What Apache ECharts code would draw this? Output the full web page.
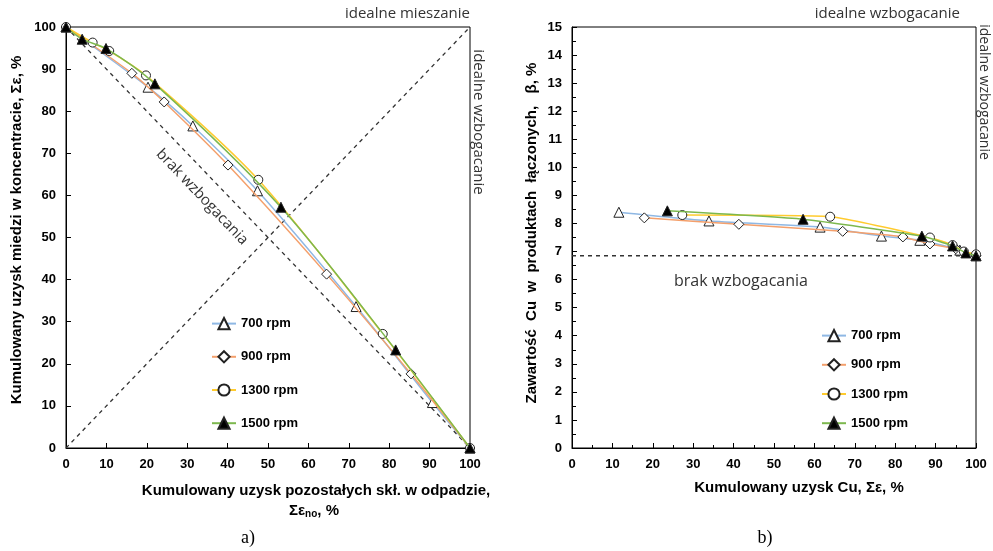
<!DOCTYPE html>
<html>
<head>
<meta charset="utf-8">
<script src="https://cdn.jsdelivr.net/npm/echarts@6/dist/echarts.min.js"></script>
<style>html,body{margin:0;padding:0;background:#fff}#c{width:993px;height:551px}</style>
</head>
<body>
<div id="c"></div>
<script>
// ---- data: left chart (a) ----
const seriesNames = ['700 rpm', '900 rpm', '1300 rpm', '1500 rpm'];
const leftX700 = [0, 20.3, 31.4, 47.4, 71.8, 90.7, 100];
const leftY700 = [100, 85.7, 76.5, 61.1, 33.6, 10.8, 0];
const leftX900 = [0, 16.3, 24.3, 40.1, 64.5, 85.4, 100];
const leftY900 = [100, 89.0, 82.2, 67.2, 41.3, 17.6, 0];
const leftX1300 = [0, 6.6, 10.7, 19.8, 47.6, 78.4, 100];
const leftY1300 = [100, 96.3, 94.3, 88.5, 63.7, 27.1, 0];
const leftX1500 = [0, 4.0, 9.9, 22.0, 53.2, 81.6, 100];
const leftY1500 = [100, 97.1, 94.9, 86.5, 57.2, 23.3, 0];
const idealMixX = [0, 100];
const idealMixY = [0, 100];
const noEnrichLeftX = [0, 100];
const noEnrichLeftY = [100, 0];
// ---- data: right chart (b) ----
const rightX700 = [11.6, 33.9, 61.4, 76.6, 86.1, 96.0, 100];
const rightY700 = [8.40, 8.09, 7.87, 7.55, 7.40, 7.05, 6.85];
const rightX900 = [17.9, 41.3, 67.0, 81.9, 88.6, 95.0, 100];
const rightY900 = [8.20, 7.97, 7.72, 7.52, 7.27, 7.10, 6.85];
const rightX1300 = [27.3, 63.9, 88.6, 94.2, 97.0, 100];
const rightY1300 = [8.30, 8.24, 7.50, 7.23, 7.00, 6.90];
const rightX1500 = [23.6, 57.2, 86.6, 94.2, 97.5, 100];
const rightY1500 = [8.45, 8.15, 7.55, 7.20, 6.95, 6.85];
const noEnrichRightX = [0, 100];
const noEnrichRightY = [6.85, 6.85];

const zip = (xs, ys) => xs.map((x, i) => [x, ys[i]]);

const lineColors = ['#8FB8E4', '#F4A06C', '#FFCB2E', '#7DB84E'];
const markers = [
  {symbol: 'triangle', size: 10, fill: '#fff'},
  {symbol: 'diamond', size: 10, fill: '#fff'},
  {symbol: 'circle', size: 9, fill: '#fff'},
  {symbol: 'triangle', size: 10, fill: '#000'}
];
const FONT = 'Liberation Sans, Arial, sans-serif';

function dataSeries(name, idx, data, gi, smooth) {
  const m = markers[idx];
  return {
    name: name, type: 'line', xAxisIndex: gi, yAxisIndex: gi,
    data: data, smooth: smooth, symbol: m.symbol, symbolSize: m.size,
    lineStyle: {color: lineColors[idx], width: 1.5},
    itemStyle: {color: m.fill, borderColor: '#222', borderWidth: 1},
    z: 3 + idx
  };
}
function dashSeries(data, gi) {
  return {
    type: 'line', xAxisIndex: gi, yAxisIndex: gi, data: data,
    symbol: 'none', silent: true,
    lineStyle: {color: '#333', width: 1.3, type: [4, 4]}, z: 2
  };
}

const leftData = [zip(leftX700, leftY700), zip(leftX900, leftY900), zip(leftX1300, leftY1300), zip(leftX1500, leftY1500)];
const rightData = [zip(rightX700, rightY700), zip(rightX900, rightY900), zip(rightX1300, rightY1300), zip(rightX1500, rightY1500)];

const axisLabel = {color: '#000', fontFamily: FONT, fontWeight: 'bold', fontSize: 13};
const axisLine = {lineStyle: {color: '#000', width: 1}};

const series = [];
seriesNames.forEach((n, i) => series.push(dataSeries(n, i, leftData[i], 0, 0.3)));
seriesNames.forEach((n, i) => series.push(dataSeries(n, i, rightData[i], 1, 0.15)));
series.push(dashSeries(zip(idealMixX, idealMixY), 0));
series.push(dashSeries(zip(noEnrichLeftX, noEnrichLeftY), 0));
series.push(dashSeries(zip(noEnrichRightX, noEnrichRightY), 1));

const legendText = {color: '#000', fontFamily: FONT, fontWeight: 'bold', fontSize: 13};

const annot = (size) => ({fontFamily: 'Open Sans, Liberation Sans, sans-serif', fontSize: size, fill: '#333'});
const title = (size) => ({fontFamily: FONT, fontWeight: 'bold', fontSize: size, fill: '#000'});

const option = {
  backgroundColor: '#fff',
  animation: false,
  grid: [
    {left: 66, right: 523, top: 27, bottom: 103, show: true, borderColor: '#000', borderWidth: 1},
    {left: 572, right: 17, top: 27, bottom: 103, show: true, borderColor: '#000', borderWidth: 1}
  ],
  xAxis: [
    {gridIndex: 0, type: 'value', min: 0, max: 100, interval: 10,
     axisLine: axisLine, axisTick: {inside: true, length: 5, lineStyle: {color: '#000'}},
     axisLabel: Object.assign({margin: 10}, axisLabel), splitLine: {show: false}},
    {gridIndex: 1, type: 'value', min: 0, max: 100, interval: 10,
     axisLine: axisLine, axisTick: {inside: true, length: 5, lineStyle: {color: '#000'}},
     minorTick: {show: true, splitNumber: 2, length: 3, lineStyle: {color: '#000'}},
     axisLabel: Object.assign({margin: 10}, axisLabel), splitLine: {show: false}}
  ],
  yAxis: [
    {gridIndex: 0, type: 'value', min: 0, max: 100, interval: 10,
     axisLine: Object.assign({show: true}, axisLine), axisTick: {show: true, inside: true, length: 5, lineStyle: {color: '#000'}},
     axisLabel: Object.assign({margin: 10}, axisLabel), splitLine: {show: false}},
    {gridIndex: 1, type: 'value', min: 0, max: 15, interval: 1,
     axisLine: Object.assign({show: true}, axisLine), axisTick: {show: true, inside: true, length: 5, lineStyle: {color: '#000'}},
     minorTick: {show: true, splitNumber: 2, length: 4, lineStyle: {color: '#000'}},
     axisLabel: Object.assign({margin: 10}, axisLabel), splitLine: {show: false}}
  ],
  legend: [
    {data: seriesNames, orient: 'vertical', left: 206, top: 312, itemWidth: 24, itemHeight: 14, itemGap: 20,
     textStyle: legendText, selectedMode: false},
    {data: seriesNames, orient: 'vertical', left: 816, top: 324, itemWidth: 24, itemHeight: 14, itemGap: 16,
     textStyle: legendText, selectedMode: false}
  ],
  series: series,
  graphic: [
    // left chart annotations
    {type: 'text', x: 470, y: 14, style: Object.assign({text: 'idealne mieszanie', align: 'right', verticalAlign: 'middle'}, annot(15))},
    {type: 'text', x: 478, y: 122, rotation: -Math.PI / 2, style: Object.assign({text: 'idealne wzbogacanie', align: 'center', verticalAlign: 'middle'}, annot(15))},
    {type: 'text', x: 202, y: 197, rotation: -0.81, style: Object.assign({text: 'brak wzbogacania', align: 'center', verticalAlign: 'middle'}, annot(15))},
    // right chart annotations
    {type: 'text', x: 960, y: 14, style: Object.assign({text: 'idealne wzbogacanie', align: 'right', verticalAlign: 'middle'}, annot(15))},
    {type: 'text', x: 984, y: 92, rotation: -Math.PI / 2, style: Object.assign({text: 'idealne wzbogacanie', align: 'center', verticalAlign: 'middle'}, annot(14))},
    {type: 'text', x: 741, y: 281, style: Object.assign({text: 'brak wzbogacania', align: 'center', verticalAlign: 'middle'}, annot(16))},
    // axis titles
    {type: 'text', x: 17, y: 230, rotation: Math.PI / 2, style: Object.assign({text: 'Kumulowany uzysk miedzi w koncentracie, Σε, %', align: 'center', verticalAlign: 'middle'}, title(15))},
    {type: 'text', x: 532, y: 233, rotation: Math.PI / 2, style: Object.assign({text: 'Zawartość  Cu  w  produktach  łączonych,   β, %', align: 'center', verticalAlign: 'middle'}, title(15))},
    {type: 'text', x: 316, y: 491, style: Object.assign({text: 'Kumulowany uzysk pozostałych skł. w odpadzie,', align: 'center', verticalAlign: 'middle'}, title(15))},
    {type: 'text', x: 314, y: 511, style: Object.assign({text: 'Σε{sub|no}, %', align: 'center', verticalAlign: 'middle',
      rich: {sub: {fontFamily: FONT, fontWeight: 'bold', fontSize: 10, verticalAlign: 'bottom', padding: [6, 0, 0, 0]}}}, title(15))},
    {type: 'text', x: 799, y: 488, style: Object.assign({text: 'Kumulowany uzysk Cu, Σε, %', align: 'center', verticalAlign: 'middle'}, title(15))},
    // panel labels
    {type: 'text', x: 248, y: 538, style: {text: 'a)', align: 'center', verticalAlign: 'middle', fontFamily: 'Liberation Serif, serif', fontSize: 18, fill: '#000'}},
    {type: 'text', x: 765, y: 538, style: {text: 'b)', align: 'center', verticalAlign: 'middle', fontFamily: 'Liberation Serif, serif', fontSize: 18, fill: '#000'}}
  ]
};

const chart = echarts.init(document.getElementById('c'), null, {renderer: 'canvas'});
chart.setOption(option);
</script>
</body>
</html>
